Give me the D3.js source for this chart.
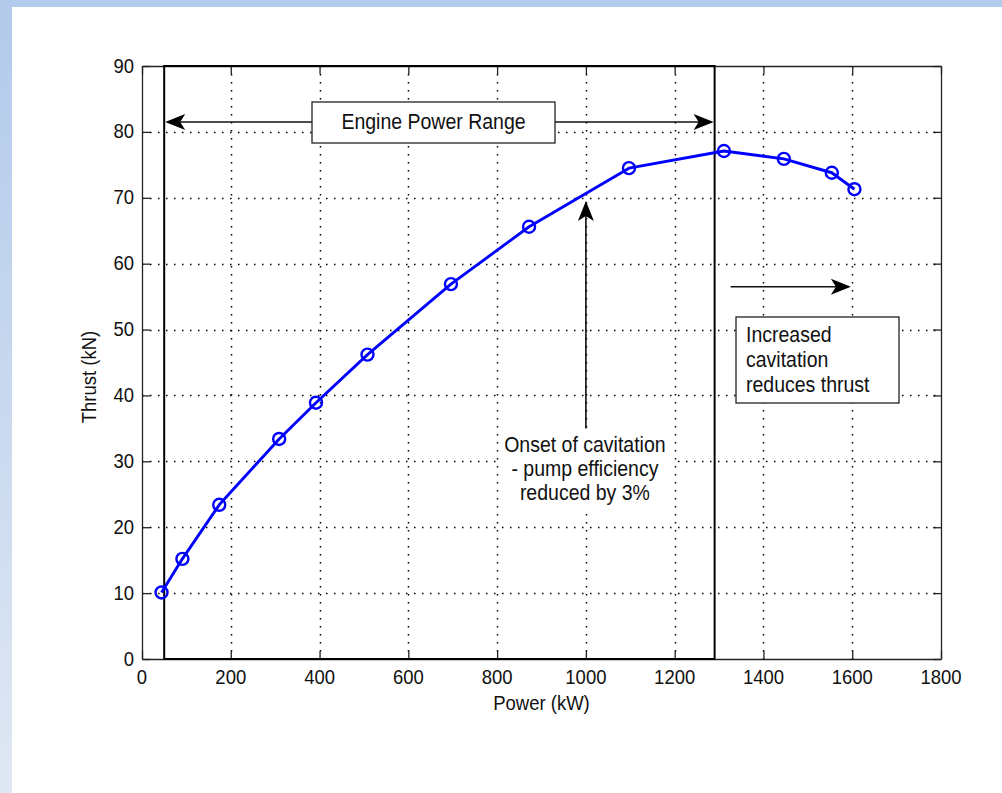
<!DOCTYPE html>
<html><head><meta charset="utf-8">
<script src="https://cdn.jsdelivr.net/npm/d3@7"></script>
<style>body{margin:0;background:#fff;}svg{display:block;}</style>
</head><body>
<svg id="c" width="1002" height="793"></svg>
<script>
const power = [44, 91, 174, 309, 392, 508, 696, 872, 1097, 1311, 1446, 1554, 1605];
const thrust = [10.1, 15.2, 23.4, 33.4, 38.9, 46.2, 56.9, 65.6, 74.5, 77.1, 75.9, 73.8, 71.3];
const xTicks = [0, 200, 400, 600, 800, 1000, 1200, 1400, 1600, 1800];
const yTicks = [0, 10, 20, 30, 40, 50, 60, 70, 80, 90];
const engineRange = [50, 1290];
const engineArrowY = [81.5];
const cavitationX = [1000];
const cavitationArrowY = [35, 69.5];
const increasedArrowX = [1326, 1597];
const increasedArrowY = [56.5];

const svg = d3.select("#c");
const defs = svg.append("defs");
const grad = defs.append("linearGradient").attr("id","lg").attr("x1",0).attr("y1",0).attr("x2",0).attr("y2",1);
grad.append("stop").attr("offset","0%").attr("stop-color","#b2caeb");
grad.append("stop").attr("offset","100%").attr("stop-color","#dfe7f3");
svg.append("rect").attr("x",0).attr("y",0).attr("width",12).attr("height",793).attr("fill","url(#lg)");
svg.append("rect").attr("x",0).attr("y",0).attr("width",1002).attr("height",7).attr("fill","#b2caeb");

const x = d3.scaleLinear().domain([0,1800]).range([142,941]);
const y = d3.scaleLinear().domain([0,90]).range([659,66]);
const FONT = "'Liberation Sans', Arial, sans-serif";
const SY = 1.13;

function txt(g, tx, ty, s, size, anchor, rot){
  const t = g.append("text")
    .attr("transform", `translate(${tx},${ty})` + (rot ? ` rotate(${rot})` : "") + ` scale(1,${SY})`)
    .attr("font-family", FONT).attr("font-size", size)
    .attr("text-anchor", anchor || "start").attr("fill", "#111").text(s);
  return t;
}

// grid
const grid = svg.append("g").attr("stroke","#000").attr("stroke-width",1.5).attr("stroke-dasharray","1.5,6.5");
grid.selectAll(".gx").data(xTicks.slice(1,-1)).join("line")
  .attr("x1",d=>Math.round(x(d))+0.5).attr("x2",d=>Math.round(x(d))+0.5).attr("y1",y(90)).attr("y2",y(0));
grid.selectAll(".gy").data(yTicks.slice(1,-1)).join("line")
  .attr("y1",d=>Math.round(y(d))+0.5).attr("y2",d=>Math.round(y(d))+0.5).attr("x1",x(0)).attr("x2",x(1800));

// axes (box with inward ticks)
const axCol = "#222";
const xb = svg.append("g").attr("transform",`translate(0,${y(0)})`)
  .call(d3.axisBottom(x).tickValues(xTicks).tickSizeInner(-8).tickSizeOuter(0).tickFormat(d3.format("d")));
const xt = svg.append("g").attr("transform",`translate(0,${y(90)})`)
  .call(d3.axisTop(x).tickValues(xTicks).tickSizeInner(-8).tickSizeOuter(0).tickFormat(""));
const yl = svg.append("g").attr("transform",`translate(${x(0)},0)`)
  .call(d3.axisLeft(y).tickValues(yTicks).tickSizeInner(-8).tickSizeOuter(0).tickFormat(d3.format("d")));
const yr = svg.append("g").attr("transform",`translate(${x(1800)},0)`)
  .call(d3.axisRight(y).tickValues(yTicks).tickSizeInner(-8).tickSizeOuter(0).tickFormat(""));
[xb,xt,yl,yr].forEach(g=>{
  g.selectAll("path,line").attr("stroke",axCol).attr("stroke-width",1.3);
  g.selectAll("text").remove();
});
// tick labels with stretched font
xTicks.forEach(d=>txt(svg, x(d), 684, d3.format("d")(d), 18.5, "middle"));
yTicks.forEach(d=>txt(svg, 134, y(d)+6.5, d3.format("d")(d), 18.5, "end"));

// axis titles
txt(svg, x(900), 710, "Power (kW)", 18.5, "middle");
txt(svg, 96, 377, "Thrust (kN)", 18.5, "middle", -90);

// engine power range rectangle
svg.append("rect").attr("x",x(engineRange[0])).attr("y",y(90)).attr("width",x(engineRange[1])-x(engineRange[0]))
  .attr("height",y(0)-y(90)).attr("fill","none").attr("stroke","#000").attr("stroke-width",2);

// data line
const line = d3.line().x((d,i)=>x(power[i])).y((d,i)=>y(thrust[i]));
svg.append("path").datum(thrust).attr("d",line).attr("fill","none").attr("stroke","#0000ff").attr("stroke-width",2.9).attr("stroke-linejoin","round");
svg.selectAll(".m").data(thrust).join("circle")
  .attr("cx",(d,i)=>x(power[i])).attr("cy",d=>y(d)).attr("r",6)
  .attr("fill","none").attr("stroke","#0000ff").attr("stroke-width",2.4);

// arrow helper
function arrowHead(g, tx, ty, angleDeg){
  g.append("path").attr("d","M0,0 L-20,-8 L-15,0 L-20,8 Z")
    .attr("transform",`translate(${tx},${ty}) rotate(${angleDeg})`).attr("fill","#000");
}
const ann = svg.append("g");
// engine power range double arrow
const ey = y(engineArrowY[0]);
ann.append("line").attr("x1",x(engineRange[0])+4).attr("x2",x(engineRange[1])-4).attr("y1",ey).attr("y2",ey)
  .attr("stroke","#111").attr("stroke-width",1.6);
arrowHead(ann, x(engineRange[0])+1, ey, 180);
arrowHead(ann, x(engineRange[1])-1, ey, 0);
ann.append("rect").attr("x",312).attr("y",102).attr("width",243).attr("height",41)
  .attr("fill","#fff").attr("stroke","#222").attr("stroke-width",1.3);
txt(ann, 433.5, 129, "Engine Power Range", 19.5, "middle");

// cavitation arrow
const cx = x(cavitationX[0]);
ann.append("line").attr("x1",cx).attr("x2",cx).attr("y1",y(cavitationArrowY[0])).attr("y2",y(cavitationArrowY[1])+4)
  .attr("stroke","#111").attr("stroke-width",1.6);
arrowHead(ann, cx, y(cavitationArrowY[1]), -90);
ann.append("rect").attr("x",499).attr("y",432).attr("width",173).attr("height",76).attr("fill","#fff");
["Onset of cavitation","- pump efficiency","reduced by 3%"].forEach((s,i)=>txt(ann, cx-1, 452+i*24, s, 19.5, "middle"));

// increased cavitation arrow and box
const iy = y(increasedArrowY[0]);
ann.append("line").attr("x1",x(increasedArrowX[0])).attr("x2",x(increasedArrowX[1])-4).attr("y1",iy).attr("y2",iy)
  .attr("stroke","#111").attr("stroke-width",1.6);
arrowHead(ann, x(increasedArrowX[1]), iy, 0);
ann.append("rect").attr("x",736).attr("y",317).attr("width",163).attr("height",86)
  .attr("fill","#fff").attr("stroke","#222").attr("stroke-width",1.3);
["Increased","cavitation","reduces thrust"].forEach((s,i)=>txt(ann, 746, 342+i*25, s, 19.5, "start"));
</script>
</body></html>
